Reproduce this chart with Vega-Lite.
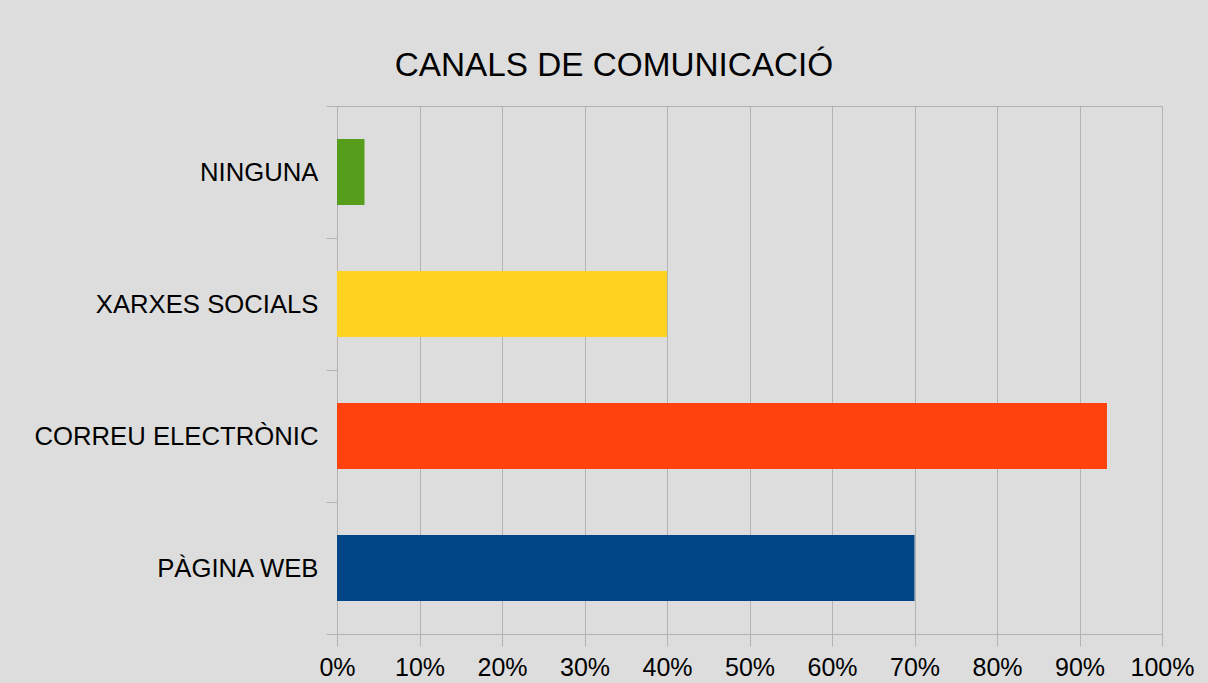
{
  "$schema": "https://vega.github.io/schema/vega-lite/v6.json",
  "width": 825,
  "height": 528,
  "autosize": {"type": "none"},
  "padding": {"left": 337, "top": 106, "right": 46, "bottom": 49},
  "background": "#dddddd",
  "title": {
    "text": "CANALS DE COMUNICACIÓ",
    "font": "Liberation Sans",
    "fontSize": 33.3,
    "fontWeight": "normal",
    "color": "#000000",
    "anchor": "middle",
    "frame": "bounds",
    "baseline": "alphabetic",
    "offset": -16
  },
  "data": {
    "values": [
      {"canal": "NINGUNA", "pct": 0.0333},
      {"canal": "XARXES SOCIALS", "pct": 0.4},
      {"canal": "CORREU ELECTRÒNIC", "pct": 0.9333},
      {"canal": "PÀGINA WEB", "pct": 0.7}
    ]
  },
  "mark": {"type": "bar", "height": {"band": 0.5}},
  "encoding": {
    "y": {
      "field": "canal",
      "type": "nominal",
      "sort": ["NINGUNA", "XARXES SOCIALS", "CORREU ELECTRÒNIC", "PÀGINA WEB"],
      "scale": {"paddingInner": 0, "paddingOuter": 0},
      "axis": {
        "title": null,
        "tickBand": "extent",
        "tickSize": 11,
        "tickColor": "#b3b3b3",
        "tickWidth": 1,
        "domainColor": "#b3b3b3",
        "domainWidth": 1,
        "grid": false,
        "labelFont": "Liberation Sans",
        "labelFontSize": 25.7,
        "labelColor": "#000000",
        "labelPadding": 8,
        "labelLimit": 0
      }
    },
    "x": {
      "field": "pct",
      "type": "quantitative",
      "scale": {"domain": [0, 1], "nice": false},
      "axis": {
        "title": null,
        "values": [0, 0.1, 0.2, 0.3, 0.4, 0.5, 0.6, 0.7, 0.8, 0.9, 1],
        "format": ".0%",
        "grid": true,
        "gridColor": "#b3b3b3",
        "gridWidth": 1,
        "tickSize": 12,
        "tickColor": "#b3b3b3",
        "domainColor": "#b3b3b3",
        "labelFont": "Liberation Sans",
        "labelFontSize": 25,
        "labelColor": "#000000",
        "labelPadding": 9,
        "labelFlush": false,
        "labelOverlap": false
      }
    },
    "color": {
      "field": "canal",
      "type": "nominal",
      "scale": {
        "domain": ["PÀGINA WEB", "CORREU ELECTRÒNIC", "XARXES SOCIALS", "NINGUNA"],
        "range": ["#004586", "#ff420e", "#ffd320", "#579d1c"]
      },
      "legend": null
    }
  },
  "config": {
    "view": {"stroke": "#b3b3b3", "strokeWidth": 1}
  }
}
